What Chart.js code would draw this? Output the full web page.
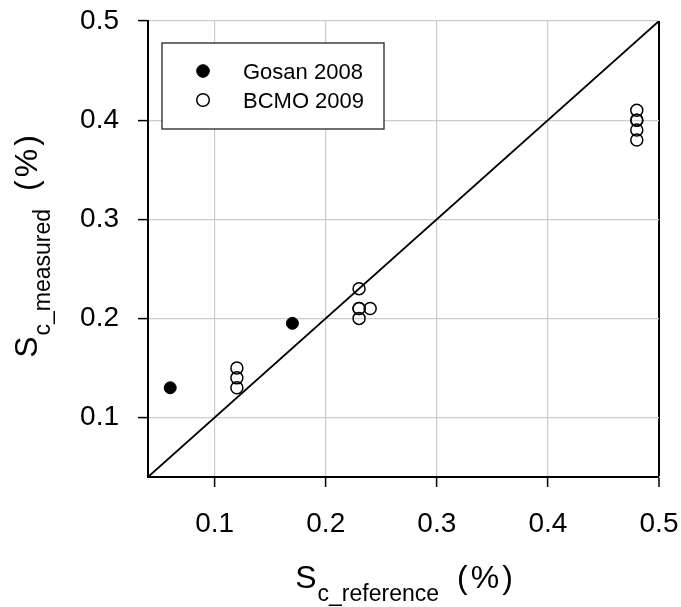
<!DOCTYPE html>
<html>
<head>
<meta charset="utf-8">
<title>Sc measured vs reference</title>
<script src="https://cdn.jsdelivr.net/npm/chart.js@4.4.1/dist/chart.umd.min.js"></script>
<style>
  html, body { margin: 0; padding: 0; background: #fff; }
  #wrap { width: 681px; height: 607px; }
</style>
</head>
<body>
<div id="wrap"><canvas id="scChart" width="681" height="607"></canvas></div>
<script>
const FONT = "'Liberation Sans', Arial, Helvetica, sans-serif";

// Gosan 2008 (filled)
const gosanX = [0.06, 0.17];
const gosanY = [0.13, 0.195];

// BCMO 2009 (open)
const bcmoX = [0.12, 0.12, 0.12, 0.23, 0.23, 0.23, 0.23, 0.24, 0.48, 0.48, 0.48, 0.48, 0.48];
const bcmoY = [0.13, 0.14, 0.15, 0.20, 0.21, 0.21, 0.23, 0.21, 0.38, 0.39, 0.40, 0.40, 0.41];

// 1:1 line
const oneToOne = [0.04, 0.5];

const axisMin = 0.04;
const axisMax = 0.5;
const xTicks = [0.1, 0.2, 0.3, 0.4, 0.5];
const yTicks = [0.1, 0.2, 0.3, 0.4, 0.5];

const seriesLabels = ['Gosan 2008', 'BCMO 2009'];

function toPoints(xs, ys) {
  return xs.map((x, i) => ({ x, y: ys[i] }));
}

// draws "S" + subscript + " (%)" on a baseline at 0, centred on 0
function drawSubTitle(ctx, sub) {
  ctx.font = `32px ${FONT}`;
  const wMain = ctx.measureText('S').width;
  ctx.letterSpacing = '3px';
  const wTail = ctx.measureText('(%)').width;
  ctx.letterSpacing = '0px';
  ctx.font = `23px ${FONT}`;
  const wSub = ctx.measureText(sub).width;
  const gap = 18;
  const total = wMain + 1 + wSub + gap + wTail;
  let x = -total / 2;
  ctx.fillStyle = '#000';
  ctx.textBaseline = 'alphabetic';
  ctx.textAlign = 'left';
  ctx.font = `32px ${FONT}`;
  ctx.fillText('S', x, 0);
  x += wMain + 1;
  ctx.font = `23px ${FONT}`;
  ctx.fillText(sub, x, 13);
  x += wSub + gap;
  ctx.font = `32px ${FONT}`;
  ctx.letterSpacing = '3px';
  ctx.fillText('(%)', x, 0);
  ctx.letterSpacing = '0px';
}

const titlesPlugin = {
  id: 'mathTitles',
  afterDraw(chart) {
    const { ctx, chartArea } = chart;
    const cx = (chartArea.left + chartArea.right) / 2;
    const cy = (chartArea.top + chartArea.bottom) / 2;

    ctx.save();
    ctx.translate(cx + 2, 588);
    drawSubTitle(ctx, 'c_reference');
    ctx.restore();

    ctx.save();
    ctx.translate(37, cy - 4);
    ctx.rotate(-Math.PI / 2);
    drawSubTitle(ctx, 'c_measured');
    ctx.restore();
  }
};

const boxLegendPlugin = {
  id: 'boxLegend',
  afterDraw(chart) {
    const { ctx } = chart;
    const left = 162, top = 43, w = 222, h = 86;
    ctx.save();
    ctx.fillStyle = '#fff';
    ctx.fillRect(left, top, w, h);
    ctx.strokeStyle = '#222';
    ctx.lineWidth = 1.3;
    ctx.strokeRect(left, top, w, h);

    const rows = [71, 100];
    [0, 1].forEach((dsIndex, i) => {
      const ds = chart.data.datasets[dsIndex];
      const y = rows[i];
      ctx.beginPath();
      ctx.arc(203, y, 6.3, 0, Math.PI * 2);
      ctx.fillStyle = ds.backgroundColor;
      ctx.fill();
      ctx.lineWidth = ds.borderWidth;
      ctx.strokeStyle = ds.borderColor;
      ctx.stroke();

      ctx.fillStyle = '#000';
      ctx.font = `22px ${FONT}`;
      ctx.textAlign = 'left';
      ctx.textBaseline = 'alphabetic';
      ctx.fillText(ds.label, 243, y + 8);
    });
    ctx.restore();
  }
};

function tickSetter(values) {
  return (scale) => {
    scale.ticks = values.map((v) => ({ value: v }));
  };
}

const ctx = document.getElementById('scChart');

new Chart(ctx, {
  type: 'scatter',
  data: {
    datasets: [
      {
        label: seriesLabels[0],
        data: toPoints(gosanX, gosanY),
        pointRadius: 6,
        pointHoverRadius: 6,
        backgroundColor: '#000',
        borderColor: '#000',
        borderWidth: 1
      },
      {
        label: seriesLabels[1],
        data: toPoints(bcmoX, bcmoY),
        pointRadius: 6,
        pointHoverRadius: 6,
        backgroundColor: 'rgba(0,0,0,0)',
        borderColor: '#000',
        borderWidth: 1.5
      },
      {
        label: '1:1',
        data: toPoints(oneToOne, oneToOne),
        showLine: true,
        pointRadius: 0,
        borderColor: '#000',
        borderWidth: 1.8,
        fill: false
      }
    ]
  },
  options: {
    responsive: false,
    animation: false,
    layout: { padding: { left: 0, right: 22, top: 21, bottom: 0 } },
    plugins: {
      legend: { display: false },
      tooltip: { enabled: false }
    },
    scales: {
      x: {
        type: 'linear',
        min: axisMin,
        max: axisMax,
        afterBuildTicks: tickSetter(xTicks),
        afterFit: (scale) => {
          scale.height = 130;
          scale.paddingLeft = 0;
          scale.paddingRight = 0;
        },
        border: { display: true, color: '#000', width: 2 },
        grid: {
          color: (c) => (c.tick && c.tick.value === 0.5 ? '#000' : '#cccccc'),
          lineWidth: (c) => (c.tick && c.tick.value === 0.5 ? 2 : 1.2),
          tickColor: '#000',
          tickLength: 10,
          tickWidth: 1.5
        },
        ticks: {
          color: '#000',
          padding: 20,
          maxRotation: 0,
          font: { family: FONT, size: 28 },
          callback: (v) => Number(v).toFixed(1)
        }
      },
      y: {
        type: 'linear',
        min: axisMin,
        max: axisMax,
        afterBuildTicks: tickSetter(yTicks),
        afterFit: (scale) => {
          scale.width = 148;
          scale.paddingTop = 0;
          scale.paddingBottom = 0;
        },
        border: { display: true, color: '#000', width: 2 },
        grid: {
          color: '#cccccc',
          lineWidth: 1.2,
          tickColor: '#000',
          tickLength: 10,
          tickWidth: 1.5
        },
        ticks: {
          color: '#000',
          padding: 19,
          font: { family: FONT, size: 28 },
          callback: (v) => Number(v).toFixed(1)
        }
      }
    }
  },
  plugins: [titlesPlugin, boxLegendPlugin]
});
</script>
</body>
</html>
